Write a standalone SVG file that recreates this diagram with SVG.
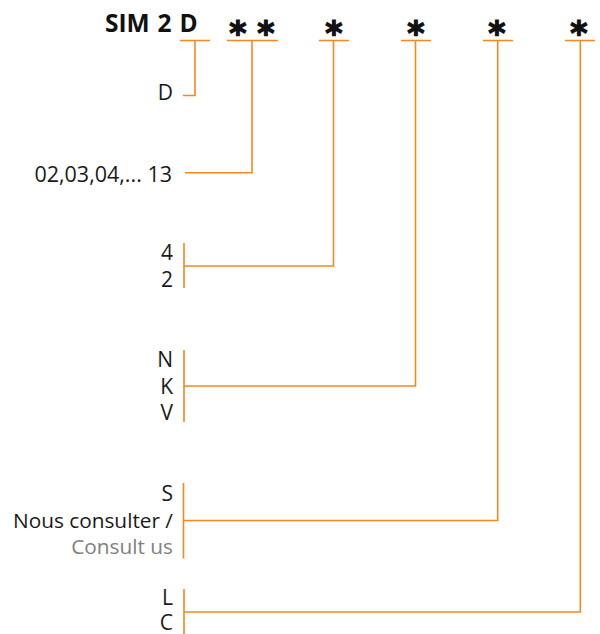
<svg xmlns="http://www.w3.org/2000/svg" width="600" height="634" viewBox="0 0 600 634">
<style>
.lbl{font-family:"Open Sans","Liberation Sans",sans-serif;font-size:21px;fill:#1a1a1a;text-anchor:end}
.grey{fill:#808080}
.title{font-family:"Open Sans","Liberation Sans",sans-serif;font-size:24.5px;font-weight:bold;fill:#111}
.ast{font-family:"DejaVu Sans",sans-serif;font-size:33px;font-weight:bold;fill:#111;stroke:#111;stroke-width:1.2;text-anchor:middle}
.ln{fill:none;stroke:#F5891F;stroke-width:1.6}
</style>
<rect width="600" height="634" fill="#fff"/>
<g id="title">
<text class="title" x="105" y="32" word-spacing="1.5">SIM 2 D</text>
<text class="ast" x="238" y="45">*</text>
<text class="ast" x="266" y="45">*</text>
<text class="ast" x="334" y="45">*</text>
<text class="ast" x="416" y="45">*</text>
<text class="ast" x="497" y="45">*</text>
<text class="ast" x="579" y="45">*</text>
</g>
<g id="node-d"><text class="lbl" x="173" y="99.5">D</text></g>
<g id="node-size"><text class="lbl" x="172" y="181.5" style="font-size:21.5px">02,03,04,... 13</text></g>
<g id="node-42"><text class="lbl" x="173" y="260">4</text><text class="lbl" x="173" y="286.5">2</text></g>
<g id="node-nkv"><text class="lbl" x="173" y="366.5">N</text><text class="lbl" x="173" y="393.5">K</text><text class="lbl" x="173" y="420">V</text></g>
<g id="node-s"><text class="lbl" x="173" y="500.5">S</text><text class="lbl" x="173" y="527.5" style="font-size:20.8px">Nous consulter /</text><text class="lbl grey" x="173" y="553.5" style="font-size:20.8px">Consult us</text></g>
<g id="node-lc"><text class="lbl" x="173" y="605">L</text><text class="lbl" x="173" y="630">C</text></g>
<g id="connectors">
<path class="ln" d="M180 40.5H210M195 40.5V95.5H183"/>
<path class="ln" d="M227 40.5H278M252 40.5V172.7H185"/>
<path class="ln" d="M319 40.5H349M333.5 40.5V266H184M184 243V288"/>
<path class="ln" d="M401 40.5H431M415.5 40.5V386H184M184 350V422"/>
<path class="ln" d="M483 40.5H513M497.7 40.5V520.5H183.5M183.5 483V558.5"/>
<path class="ln" d="M565 40.5H595M580.3 40.5V612H184M184 589V634"/>
</g>
</svg>
